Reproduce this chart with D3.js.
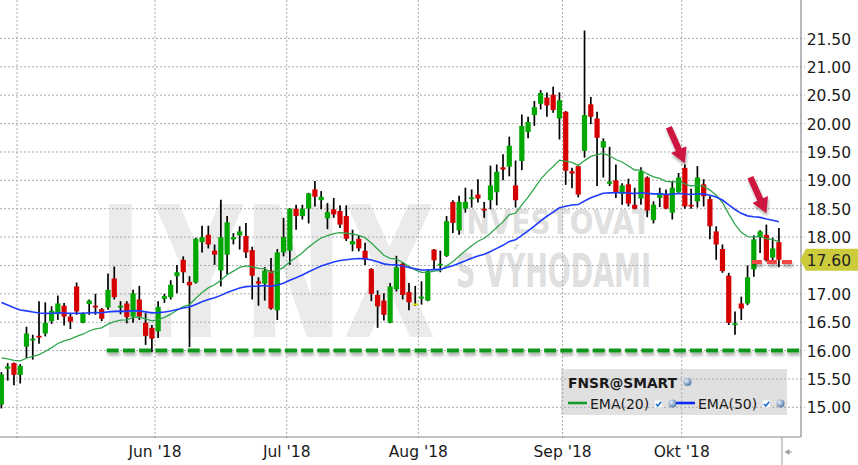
<!DOCTYPE html>
<html><head><meta charset="utf-8">
<script src="https://cdn.jsdelivr.net/npm/d3@7"></script>
<style>html,body{margin:0;padding:0;background:#fff;overflow:hidden}</style>
</head><body><svg id="c" width="858" height="465"></svg>
<script>
// ---------- data ----------
const tradingDays = [
"04-26","04-27","04-30",
"05-01","05-02","05-03","05-04","05-07","05-08","05-09","05-10","05-11","05-14","05-15","05-16","05-17","05-18","05-21","05-22","05-23","05-24","05-25","05-29","05-30","05-31",
"06-01","06-04","06-05","06-06","06-07","06-08","06-11","06-12","06-13","06-14","06-15","06-18","06-19","06-20","06-21","06-22","06-25","06-26","06-27","06-28","06-29",
"07-02","07-03","07-05","07-06","07-09","07-10","07-11","07-12","07-13","07-16","07-17","07-18","07-19","07-20","07-23","07-24","07-25","07-26","07-27","07-30","07-31",
"08-01","08-02","08-03","08-06","08-07","08-08","08-09","08-10","08-13","08-14","08-15","08-16","08-17","08-20","08-21","08-22","08-23","08-24","08-27","08-28","08-29","08-30","08-31",
"09-04","09-05","09-06","09-07","09-10","09-11","09-12","09-13","09-14","09-17","09-18","09-19","09-20","09-21","09-24","09-25","09-26","09-27","09-28",
"10-01","10-02","10-03","10-04","10-05","10-08","10-09","10-10","10-11","10-12","10-15","10-16","10-17","10-18","10-19","10-22"];

const openP = [15.05,15.68,15.78,15.57,16.07,16.18,16.26,16.30,16.52,16.64,16.79,16.60,17.13,16.49,16.82,16.79,16.73,16.76,17.27,16.76,
16.83,16.60,16.90,16.49,16.40,16.34,16.91,16.94,17.31,17.60,17.21,17.20,17.91,18.04,17.76,17.41,17.69,17.96,18.03,18.02,
17.77,17.22,17.18,17.41,16.71,17.73,17.76,18.50,18.37,18.50,18.84,18.65,18.33,18.49,18.46,18.37,17.87,17.97,17.76,17.44,
16.98,16.88,16.49,17.08,17.53,17.03,16.83,16.92,16.88,17.78,17.50,17.67,18.62,18.12,18.50,18.67,18.75,18.50,18.65,18.79,
19.23,19.24,18.91,19.34,19.85,20.15,20.35,20.46,20.51,20.09,20.21,19.16,19.25,19.52,20.34,20.09,19.58,18.94,19.00,18.76,
18.93,18.57,18.68,19.05,18.30,18.69,18.76,18.43,18.79,19.22,18.57,18.63,18.93,18.67,18.10,17.79,17.32,16.45,16.83,16.83,
17.43,18.00,18.04,17.64,17.91];
const highP = [15.62,15.78,15.79,15.76,16.42,16.28,16.87,16.85,16.78,16.97,16.84,16.66,17.20,16.67,16.90,17.00,16.75,17.36,17.48,16.87,
16.87,17.07,17.14,16.66,16.45,16.87,17.00,17.24,17.51,17.66,17.31,17.99,18.20,18.20,17.87,18.66,18.37,18.07,18.19,18.25,
17.83,17.29,17.47,17.63,17.79,18.34,18.51,18.57,18.57,18.78,18.99,18.81,18.60,18.69,18.56,18.56,18.13,18.03,17.90,17.45,
17.06,17.01,17.19,17.67,17.56,17.19,17.14,17.22,17.43,17.79,17.76,18.37,18.65,18.73,18.87,18.84,19.02,18.62,19.26,19.28,
19.46,19.77,19.35,20.16,20.12,20.40,20.59,20.55,20.65,20.55,20.22,19.22,19.25,21.64,20.47,20.21,19.74,19.59,19.28,18.95,
19.03,18.87,19.23,19.07,18.63,18.87,18.84,18.99,19.13,19.28,18.85,19.25,19.02,18.72,18.19,17.87,17.37,16.69,16.95,17.50,
18.03,18.12,18.22,17.99,18.16];
const lowP = [14.98,15.47,15.39,15.42,15.87,15.84,16.12,16.25,16.47,16.54,16.44,16.38,16.63,16.48,16.63,16.63,16.52,16.72,16.90,16.64,
16.48,16.49,16.54,16.10,15.97,16.22,16.84,16.90,17.01,17.19,16.06,17.18,17.73,17.80,17.51,17.13,17.34,17.87,17.78,17.63,
16.90,16.79,16.88,16.72,16.54,17.66,17.51,18.13,18.31,18.24,18.54,18.49,18.14,18.34,18.16,17.93,17.75,17.75,17.51,16.87,
16.40,16.53,16.48,17.04,16.90,16.71,16.79,16.81,16.87,17.43,17.38,17.65,18.07,18.04,18.43,18.52,18.61,18.34,18.49,18.56,
19.00,19.07,18.52,19.18,19.74,19.96,20.25,20.12,20.19,19.72,18.92,18.86,18.70,19.40,19.99,18.90,19.05,18.90,18.69,18.57,
18.54,18.49,18.57,18.35,18.24,18.53,18.49,18.31,18.78,18.50,18.50,18.52,18.54,17.96,17.60,17.37,16.45,16.28,16.54,16.80,
17.30,17.72,17.57,17.57,17.47];
const closeP = [15.58,15.72,15.57,15.73,16.30,16.21,16.23,16.49,16.70,16.83,16.60,16.51,16.69,16.66,16.88,16.76,16.56,17.07,16.94,16.79,
16.59,17.01,16.60,16.26,16.21,16.77,16.96,17.16,17.38,17.38,17.15,17.97,18.00,17.87,17.69,18.00,18.26,18.00,18.10,17.73,
17.32,17.18,17.41,16.74,17.73,18.00,18.50,18.37,18.50,18.77,18.71,18.71,18.44,18.40,18.22,17.97,17.93,17.80,17.60,17.00,
16.78,16.63,17.13,17.47,16.98,16.85,16.83,16.95,17.40,17.59,17.53,18.28,18.25,18.62,18.62,18.70,18.68,18.47,18.91,19.15,
19.19,19.61,18.65,19.96,20.03,20.29,20.54,20.32,20.24,20.41,19.17,19.12,18.75,20.15,20.12,19.75,19.69,18.98,18.79,18.91,
18.59,18.50,19.16,18.47,18.57,18.78,18.50,18.87,19.05,18.54,18.54,19.05,18.72,18.19,17.87,17.40,16.49,16.48,16.74,17.29,
17.96,18.10,17.59,17.80,17.60];

const yTicks = [15.0,15.5,16.0,16.5,17.0,17.5,18.0,18.5,19.0,19.5,20.0,20.5,21.0,21.5];
const monthNames = ["Jan","Feb","Mär","Apr","Mai","Jun","Jul","Aug","Sep","Okt","Nov","Dez"];
const yearLabel = "'18";
const emaPeriods = [20, 50];
const emaSeeds = [15.90, 16.90];      // indicator values before first visible bar
const symbolName = "FNSR@SMART";
const supportLevel = 16.00;
const supportFromIdx = 16.8;
const redLevel = 17.56;
const redFromIdx = 119.7, redToIdx = 126.3;
const lastPrice = 17.60;
const arrowTips = [{i:109, p:19.30}, {i:122, p:18.42}];

// ---------- layout ----------
const W = 858, H = 465, plotR = 801, plotB = 437;
const svg = d3.select("#c");
const x = d3.scaleLinear().domain([0, 124]).range([1.4, 778.9]);
const y = d3.scaleLinear().domain([15, 21.5]).range([407.3, 38.5]);
const font = "'DejaVu Sans', Verdana, sans-serif";

const defs = svg.append("defs");
defs.append("clipPath").attr("id","plot").append("rect").attr("x",0).attr("y",0).attr("width",plotR).attr("height",plotB);
const f = defs.append("filter").attr("id","sh").attr("filterUnits","userSpaceOnUse")
  .attr("x",-10).attr("y",-10).attr("width",W+20).attr("height",H+20);
f.append("feDropShadow").attr("dx",1).attr("dy",3).attr("stdDeviation",1.6).attr("flood-color","#000").attr("flood-opacity",0.33);
const rg = defs.append("radialGradient").attr("id","ball").attr("cx","35%").attr("cy","35%").attr("r","70%");
rg.append("stop").attr("offset","0%").attr("stop-color","#e8f0fa");
rg.append("stop").attr("offset","100%").attr("stop-color","#4f77a6");

svg.append("rect").attr("width",W).attr("height",H).attr("fill","#fff");

// watermark (natural widths kept within their areas, stretched vertically)
const wm = svg.append("g").attr("clip-path","url(#plot)");
wm.append("text").attr("x",98).attr("y",0).attr("transform","translate(0,337) scale(1,1.62)")
  .attr("font-family",font).attr("font-weight","bold")
  .attr("font-size",112).attr("fill","#ebebeb").attr("textLength",338).attr("lengthAdjust","spacingAndGlyphs").text("LYNX");
wm.append("text").attr("x",456).attr("y",0).attr("transform","translate(0,234) scale(1,1.4)")
  .attr("font-family",font).attr("font-weight","bold")
  .attr("font-size",24).attr("fill","#e0e0e0").attr("textLength",195).attr("lengthAdjust","spacingAndGlyphs").text("INVESTOVAT");
wm.append("text").attr("x",456).attr("y",0).attr("transform","translate(0,287) scale(1,1.95)")
  .attr("font-family",font).attr("font-weight","bold")
  .attr("font-size",24).attr("fill","#e0e0e0").attr("textLength",195).attr("lengthAdjust","spacingAndGlyphs").text("S VÝHODAMI");

// legend background (beneath grid)
svg.append("rect").attr("x",561).attr("y",369).attr("width",226).attr("height",46).attr("fill","#e0e0e0");

// grid
const grid = svg.append("g");
yTicks.forEach(t => {
  grid.append("line").attr("x1",0).attr("x2",plotR+4).attr("y1",y(t)).attr("y2",y(t))
    .attr("stroke","#aaa").attr("stroke-dasharray","2,2");
});
const monthStarts = [];
tradingDays.forEach((d,i) => {
  if (i > 0 && d.slice(0,2) !== tradingDays[i-1].slice(0,2)) monthStarts.push({i, m: +d.slice(0,2)});
});
monthStarts.forEach(ms => {
  const gx = x(ms.i - 0.5);
  grid.append("line").attr("x1",gx).attr("x2",gx).attr("y1",0).attr("y2",plotB+3)
    .attr("stroke","#aaa").attr("stroke-dasharray","2,2");
});

// axes lines
svg.append("line").attr("x1",plotR).attr("x2",plotR).attr("y1",0).attr("y2",plotB).attr("stroke","#8a8a8a").attr("stroke-width",1.2);
svg.append("line").attr("x1",0).attr("x2",plotR).attr("y1",plotB).attr("y2",plotB).attr("stroke","#8a8a8a").attr("stroke-width",1.2);
svg.append("line").attr("x1",782).attr("x2",782).attr("y1",plotB).attr("y2",H).attr("stroke","#9a9a9a");
svg.append("path").attr("d","M784.5,452 L789.5,449 L789.5,455 Z").attr("fill","#a0a0a0");
svg.append("line").attr("x1",789).attr("x2",792).attr("y1",452).attr("y2",452).attr("stroke","#a0a0a0");

// y tick labels (a label hidden under the last-price tag is skipped)
const ly = y(lastPrice);
yTicks.forEach(t => {
  if (Math.abs(y(t) - ly) < 18) return;
  svg.append("text").attr("x",806.7).attr("y",y(t)+1).attr("dominant-baseline","central")
    .attr("font-family",font).attr("font-size",15.5).attr("fill","#1a1a1a").text(t.toFixed(2));
});
// x tick labels
monthStarts.forEach(ms => {
  const gx = x(ms.i - 0.5);
  const label = monthNames[ms.m-1] + " " + yearLabel;
  const t = svg.append("text").attr("x",gx).attr("y",456.5).attr("text-anchor","middle")
    .attr("font-family",font).attr("font-size",15.5).attr("fill","#1a1a1a").text(label);
  const w = t.node().getComputedTextLength();
  if (gx - w/2 < 0) t.remove();
});

// candles
const candles = svg.append("g").attr("clip-path","url(#plot)");
const idx = d3.range(closeP.length);
candles.selectAll("line.w").data(idx).join("line")
  .attr("x1",i=>x(i)).attr("x2",i=>x(i)).attr("y1",i=>y(highP[i])).attr("y2",i=>y(lowP[i]))
  .attr("stroke","#000").attr("stroke-width",1.7);
candles.selectAll("rect.b").data(idx).join("rect")
  .attr("x",i=>x(i)-2.6).attr("width",5.2)
  .attr("y",i=>y(Math.max(openP[i],closeP[i])))
  .attr("height",i=>Math.max(1.8, Math.abs(y(openP[i])-y(closeP[i]))))
  .attr("fill",i=> closeP[i]>openP[i] ? "#00a800" : closeP[i]<openP[i] ? "#d60000" : "#e6e600");

// EMAs
function ema(vals, n, seed){ const k=2/(n+1); let e=seed; return vals.map(v => (e = e + k*(v-e))); }
const emaColors = ["#2fa64a","#1f3cff"];
const emaWidths = [1.3, 1.6];
emaPeriods.forEach((n,j) => {
  const e = ema(closeP, n, emaSeeds[j]);
  candles.append("path").datum(e)
    .attr("d", d3.line().x((d,i)=>x(i)).y(d=>y(d)))
    .attr("fill","none").attr("stroke",emaColors[j]).attr("stroke-width",emaWidths[j]);
});

// support line & red line
svg.append("line").attr("x1",x(supportFromIdx)).attr("x2",plotR-1).attr("y1",y(supportLevel)).attr("y2",y(supportLevel))
  .attr("stroke","#11961a").attr("stroke-width",4).attr("stroke-dasharray","12,4.2").attr("filter","url(#sh)");
svg.append("line").attr("x1",x(redFromIdx)).attr("x2",x(redToIdx)).attr("y1",y(redLevel)).attr("y2",y(redLevel))
  .attr("stroke","#f24545").attr("stroke-width",4).attr("stroke-dasharray","10,5").attr("filter","url(#sh)");

// arrows
function arrowPoly(tx,ty,hx,hy){
  const dx=hx-tx, dy=hy-ty, L=Math.hypot(dx,dy), ux=dx/L, uy=dy/L, px=-uy, py=ux;
  const sw=3.2, hw=8.5, hl=15;
  const bx=hx-ux*hl, by=hy-uy*hl;
  return [[tx+px*sw,ty+py*sw],[bx+px*sw,by+py*sw],[bx+px*hw,by+py*hw],[hx,hy],[bx-px*hw,by-py*hw],[bx-px*sw,by-py*sw],[tx-px*sw,ty-py*sw]];
}
arrowTips.forEach(a => {
  const hx = x(a.i), hy = y(a.p);
  svg.append("polygon").attr("points", arrowPoly(hx-16, hy-36, hx, hy).map(p=>p.join(",")).join(" "))
    .attr("fill","#cc1540").attr("filter","url(#sh)");
});

// last price tag
svg.append("polygon").attr("points",`800,${ly} 806,${ly-11} ${W},${ly-11} ${W},${ly+11} 806,${ly+11}`).attr("fill","#cbcb3c");
svg.append("text").attr("x",806.7).attr("y",ly+1).attr("dominant-baseline","central")
  .attr("font-family",font).attr("font-size",15.5).attr("fill","#222").text(lastPrice.toFixed(2));

// legend
const lg = svg.append("g").attr("font-family",font);
lg.append("text").attr("x",568).attr("y",387.5).attr("font-weight","bold").attr("font-size",14)
  .attr("textLength",109).attr("lengthAdjust","spacingAndGlyphs").attr("fill","#1a1a1a").text(symbolName);
lg.append("circle").attr("cx",687.5).attr("cy",382).attr("r",4).attr("fill","url(#ball)");
function check(cx,cy){
  lg.append("rect").attr("x",cx-3.5).attr("y",cy-3.5).attr("width",7).attr("height",7).attr("fill","#fff");
  lg.append("path").attr("d",`M${cx-2.5},${cy} L${cx-0.7},${cy+2} L${cx+2.7},${cy-2.2}`).attr("fill","none").attr("stroke","#1a6fd6").attr("stroke-width",1.6);
}
const legItems = [{x:568, label:"EMA(" + emaPeriods[0] + ")", color:"#159a2a", tx:590, cx:658.5, bx:672.5},
                  {x:676, label:"EMA(" + emaPeriods[1] + ")", color:"#0b2cf0", tx:698, cx:766.5, bx:780.5}];
legItems.forEach(it => {
  lg.append("line").attr("x1",it.x).attr("x2",it.x+19).attr("y1",403).attr("y2",403).attr("stroke",it.color).attr("stroke-width",2.6);
  lg.append("text").attr("x",it.tx).attr("y",408.5).attr("font-size",14).attr("fill","#1a1a1a").text(it.label);
  check(it.cx, 404);
  lg.append("circle").attr("cx",it.bx).attr("cy",403.5).attr("r",4).attr("fill","url(#ball)");
});
</script></body></html>
